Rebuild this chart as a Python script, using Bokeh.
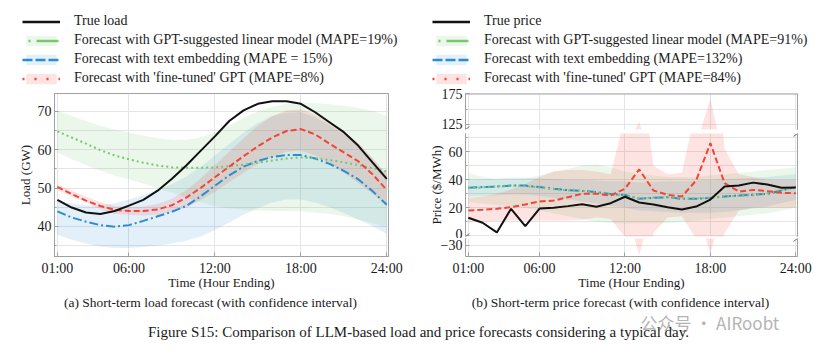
from bokeh.plotting import figure
from bokeh.layouts import row, column
from bokeh.models import Range1d, FixedTicker, Legend, LegendItem, Label, LinearAxis, Arrow, Span
from bokeh.embed import file_html
from bokeh.resources import INLINE

# ---------------- data ----------------
hours = list(range(1, 25))
tick_hours = [1, 6, 12, 18, 24]
tick_labels = ["01:00", "06:00", "12:00", "18:00", "24:00"]

# (a) load, GW
load_true = [46.9, 44.9, 43.6, 43.2, 44.0, 45.4, 46.9, 49.3, 52.4, 55.9, 59.7, 63.5,
             67.5, 70.3, 72.0, 72.7, 72.7, 72.0, 69.8, 67.2, 64.6, 61.1, 56.7, 52.4]
load_lin = [64.8, 63.2, 61.6, 59.9, 58.5, 57.5, 56.6, 55.9, 55.4, 55.3, 55.3, 55.4,
            55.7, 56.1, 56.6, 57.2, 57.7, 58.0, 57.8, 57.3, 56.7, 56.0, 55.2, 54.3]
load_lin_lo = [59.3, 57.5, 56.0, 54.5, 53.3, 52.3, 51.2, 50.0, 48.8, 47.5, 46.3, 45.3,
               44.7, 44.3, 44.1, 44.0, 44.0, 43.9, 43.6, 43.2, 42.6, 41.8, 40.8, 39.7]
load_lin_hi = [70.3, 68.8, 67.5, 66.3, 65.3, 64.5, 63.7, 63.0, 62.6, 62.6, 63.2, 64.5,
               66.3, 68.3, 70.0, 71.2, 72.0, 72.3, 72.2, 71.9, 71.5, 71.0, 70.2, 68.8]
load_emb = [43.9, 42.3, 41.2, 40.3, 39.9, 40.3, 41.4, 42.6, 43.8, 45.3, 47.8, 50.6,
            53.3, 55.6, 57.1, 58.1, 58.6, 58.6, 57.7, 56.3, 54.5, 52.3, 49.2, 45.6]
load_emb_lo = [37.8, 36.5, 35.5, 34.7, 34.3, 34.3, 34.6, 35.0, 35.5, 36.2, 37.3, 39.0,
               41.0, 43.0, 44.8, 46.2, 47.0, 47.0, 46.2, 45.0, 43.5, 41.8, 40.0, 38.0]
load_emb_hi = [46.5, 46.0, 45.5, 45.5, 46.0, 47.0, 48.2, 49.5, 51.0, 53.0, 55.5, 58.5,
               61.5, 64.5, 67.0, 68.8, 69.7, 69.8, 68.5, 66.5, 64.0, 61.0, 57.5, 53.5]
load_ft = [50.3, 48.4, 46.7, 45.3, 44.3, 44.0, 44.0, 44.4, 45.5, 47.5, 50.0, 52.8,
           55.6, 58.3, 60.9, 63.2, 64.9, 65.4, 64.0, 61.6, 59.3, 57.0, 53.6, 49.5]
load_ft_lo = [49.5, 47.8, 46.3, 44.5, 43.3, 43.0, 42.8, 43.0, 43.8, 45.0, 46.8, 49.0,
              51.5, 54.0, 56.3, 58.2, 59.5, 59.8, 58.5, 56.5, 54.0, 51.3, 48.5, 45.5]
load_ft_hi = [51.0, 49.3, 47.8, 46.3, 45.3, 45.0, 45.2, 45.8, 47.2, 49.5, 52.5, 56.0,
              59.5, 63.0, 66.3, 68.8, 70.3, 70.5, 69.3, 67.3, 64.8, 61.8, 58.0, 53.5]
load_ticks = [40, 50, 60, 70]
load_minor = [35, 45, 55, 65]

# (b) price, $/MWh
price_true = [12.9, 9.3, 2.4, 19.3, 6.9, 19.5, 20.0, 21.2, 22.6, 20.7, 23.3, 27.9,
              23.8, 22.4, 20.4, 18.8, 20.9, 25.9, 35.2, 35.9, 38.0, 36.6, 34.3, 34.5]
price_lin = [34.0, 34.6, 35.3, 36.0, 35.7, 34.5, 33.3, 32.4, 32.3, 31.0, 29.5, 28.8,
             26.8, 27.3, 27.4, 26.6, 26.6, 27.3, 28.3, 28.6, 29.0, 30.3, 32.8, 34.6]
price_lin_lo = [24, 23, 22, 21, 20, 18, 16, 14, 12, 10, 9, 9,
                9, 9, 9, 10, 11, 12, 13, 14, 15, 16, 18, 20]
price_lin_hi = [45, 42, 40, 40, 41, 43, 46, 48, 50, 51, 49, 46,
                44, 43, 42, 42, 42, 43, 44, 45, 46, 47, 48, 49]
price_emb = [34.3, 34.8, 35.2, 35.9, 35.9, 34.8, 33.6, 32.6, 32.1, 31.2, 29.8, 29.1,
             26.4, 27.1, 27.6, 26.4, 26.4, 27.1, 28.1, 28.8, 29.3, 30.0, 32.4, 34.8]
price_emb_lo = [28.0, 28.5, 29.0, 29.5, 29.5, 28.5, 27.0, 26.0, 24.5, 23.0, 21.5, 20.0,
                18.0, 17.5, 17.0, 16.5, 16.5, 16.5, 17.0, 18.0, 19.5, 21.0, 23.5, 25.5]
price_emb_hi = [40.0, 40.5, 41.0, 41.5, 41.5, 41.0, 40.5, 40.0, 40.0, 39.5, 39.0, 39.0,
                38.0, 38.5, 39.0, 39.0, 39.5, 40.0, 40.5, 41.0, 41.5, 42.0, 43.0, 44.0]
price_ft = [18.1, 18.6, 19.3, 20.4, 22.4, 24.5, 25.2, 27.6, 30.0, 30.0, 28.8, 33.6,
            47.4, 32.4, 29.3, 28.1, 39.5, 66.2, 37.6, 31.6, 32.8, 31.9, 30.7, 30.4]
price_ft_lo = [9.7, 10.0, 10.5, 11.0, 11.0, 11.0, 11.0, 11.0, 11.5, 13.0, 12.0, -1.0,
               -37.0, 2.0, 13.0, 14.0, -2.0, -36.0, 2.0, 18.0, 20.0, 20.0, 20.0, 20.0]
price_ft_hi = [27, 28, 30, 33, 37, 42, 46, 47, 47, 46, 44, 85,
               129.4, 50, 44, 45, 91.5, 167, 62, 44, 42, 40, 40, 40]

price_top_ticks, price_top_minor = [125, 175], [150]
price_mid_ticks, price_mid_minor = [0, 20, 40, 60], [10, 30, 50, 70]
price_bot_ticks, price_bot_minor = [-30], []

legend_a = ["True load",
            "Forecast with GPT-suggested linear model (MAPE=19%)",
            "Forecast with text embedding (MAPE = 15%)",
            "Forecast with 'fine-tuned' GPT (MAPE=8%)"]
legend_b = ["True price",
            "Forecast with GPT-suggested linear model (MAPE=91%)",
            "Forecast with text embedding (MAPE=132%)",
            "Forecast with 'fine-tuned' GPT (MAPE=84%)"]

# ---------------- style ----------------
FONT = "Liberation Serif"
GRAY = "#a0a0a0"
GRID = "#e4e4e4"
TXT = "#1a1a1a"
BLACK, GREEN, BLUE, RED = "#111111", "#78c76f", "#2b8ccf", "#f2453a"
X_RANGE = (0.8, 24.12)
FS = "14px"
NAN = float("nan")


def base_fig(width, height, yr, **kw):
    p = figure(width=width, height=height, x_range=Range1d(*X_RANGE), y_range=Range1d(*yr),
               output_backend="svg", toolbar_location=None, **kw)
    p.background_fill_color = "white"
    p.border_fill_color = "white"
    p.xgrid.ticker = FixedTicker(ticks=tick_hours)
    p.xgrid.grid_line_color = GRID
    p.ygrid.grid_line_color = GRID
    p.ygrid.minor_grid_line_color = GRID
    for ax in p.yaxis:
        ax.axis_line_color = GRAY
        ax.major_tick_line_color = GRAY
        ax.minor_tick_line_color = GRAY
        ax.major_tick_in = 4
        ax.major_tick_out = 0
        ax.minor_tick_in = 2
        ax.minor_tick_out = 0
        ax.major_label_standoff = 3
        ax.major_label_text_font = FONT
        ax.major_label_text_font_size = FS
        ax.major_label_text_color = TXT
        ax.axis_label_text_font = FONT
        ax.axis_label_text_font_size = "13px"
        ax.axis_label_text_font_style = "normal"
        ax.axis_label_text_color = TXT
        ax.axis_label_standoff = 2
    return p


def style_xaxis(p):
    for ax in p.xaxis:
        ax.ticker = FixedTicker(ticks=tick_hours)
        ax.major_label_overrides = dict(zip(tick_hours, tick_labels))
        ax.axis_line_color = GRAY
        ax.major_tick_line_color = GRAY
        ax.minor_tick_line_color = None
        ax.major_tick_in = 4
        ax.major_tick_out = 0
        ax.major_label_standoff = 4
        ax.major_label_text_font = FONT
        ax.major_label_text_font_size = FS
        ax.major_label_text_color = TXT
        ax.axis_label = "Time (Hour Ending)"
        ax.axis_label_text_font = FONT
        ax.axis_label_text_font_size = "13px"
        ax.axis_label_text_font_style = "normal"
        ax.axis_label_text_color = TXT
        ax.axis_label_standoff = -4


def draw_series(p, x, true, lin, lin_lo, lin_hi, emb, emb_lo, emb_hi, ft, ft_lo, ft_hi):
    p.varea(x=x, y1=lin_lo, y2=lin_hi, fill_color=GREEN, fill_alpha=0.15)
    p.varea(x=x, y1=emb_lo, y2=emb_hi, fill_color=BLUE, fill_alpha=0.13)
    p.varea(x=x, y1=ft_lo, y2=ft_hi, fill_color=RED, fill_alpha=0.15)
    p.line(x, emb, line_color=BLUE, line_width=2, line_dash="9 3 2 3")
    p.line(x, lin, line_color=GREEN, line_width=2, line_dash="2 3")
    p.line(x, ft, line_color=RED, line_width=2, line_dash="6 3")
    p.line(x, true, line_color=BLACK, line_width=2)


def legend_fig(width, labels, x0):
    lf = figure(width=width, height=87, x_range=Range1d(0, 1), y_range=Range1d(0, 1),
                x_axis_location=None, y_axis_location=None, toolbar_location=None,
                output_backend="svg", min_border=0)
    lf.outline_line_color = None
    lf.grid.visible = False
    # legend proxies (NaN data, nothing drawn in the frame) with the reference's legend styles
    l_true = lf.line(x=[NAN], y=[NAN], line_color=BLACK, line_width=2.5)
    b_lin = lf.varea(x=[NAN], y1=[NAN], y2=[NAN], fill_color=GREEN, fill_alpha=0.15)
    l_lin = lf.line(x=[NAN], y=[NAN], line_color=GREEN, line_width=2.5, line_dash="0 6 2 6 22 0")
    b_emb = lf.varea(x=[NAN], y1=[NAN], y2=[NAN], fill_color=BLUE, fill_alpha=0.13)
    l_emb = lf.line(x=[NAN], y=[NAN], line_color=BLUE, line_width=2.5, line_dash="10 3")
    b_ft = lf.varea(x=[NAN], y1=[NAN], y2=[NAN], fill_color=RED, fill_alpha=0.15)
    l_ft = lf.line(x=[NAN], y=[NAN], line_color=RED, line_width=2.5, line_dash="2 10")
    items = [LegendItem(label=labels[0], renderers=[l_true]),
             LegendItem(label=labels[1], renderers=[b_lin, l_lin]),
             LegendItem(label=labels[2], renderers=[b_emb, l_emb]),
             LegendItem(label=labels[3], renderers=[b_ft, l_ft])]
    leg = Legend(items=items, location=(x0, 1), orientation="vertical",
                 glyph_width=38, glyph_height=13, label_standoff=14, spacing=3,
                 padding=0, margin=0, border_line_color=None, background_fill_alpha=0,
                 label_text_font=FONT, label_text_font_size=FS, label_text_color=TXT,
                 label_height=13)
    lf.add_layout(leg, "center")
    return lf


# ---------------- (a) load ----------------
pl = base_fig(415, 207, (32.1, 74.7), min_border_left=54, min_border_right=27,
              min_border_top=6, min_border_bottom=38)
pl.outline_line_color = GRAY
pl.yaxis.ticker = FixedTicker(ticks=load_ticks, minor_ticks=load_minor)
pl.ygrid.ticker = FixedTicker(ticks=load_ticks, minor_ticks=load_minor)
pl.yaxis.axis_label = "Load (GW)"
style_xaxis(pl)
draw_series(pl, hours, load_true, load_lin, load_lin_lo, load_lin_hi,
            load_emb, load_emb_lo, load_emb_hi, load_ft, load_ft_lo, load_ft_hi)


# ---------------- (b) price: broken y axis as three stacked panels ----------------
def price_panel(height, yr, ticks, minor, mb_top, mb_bot, xaxis, ylabel=None):
    p = base_fig(414, height, yr, min_border_left=50, min_border_right=32,
                 min_border_top=mb_top, min_border_bottom=mb_bot,
                 x_axis_location="below" if xaxis else None)
    p.outline_line_color = None
    p.yaxis.ticker = FixedTicker(ticks=ticks, minor_ticks=minor)
    p.ygrid.ticker = FixedTicker(ticks=ticks, minor_ticks=minor)
    if ylabel:
        p.yaxis.axis_label = ylabel
    if xaxis:
        style_xaxis(p)
    right = LinearAxis(ticker=FixedTicker(ticks=[]), axis_line_color=GRAY,
                       major_tick_line_color=None, minor_tick_line_color=None)
    p.add_layout(right, "right")
    draw_series(p, hours, price_true, price_lin, price_lin_lo, price_lin_hi,
                price_emb, price_emb_lo, price_emb_hi, price_ft, price_ft_lo, price_ft_hi)
    return p


TOP_RANGE = (116.8, 175.6)
MID_RANGE = (-0.5, 73.1)
BOT_RANGE = (-37.9, -25.0)
ptop = price_panel(45, TOP_RANGE, price_top_ticks, price_top_minor, 6, 3, False)
ptop.add_layout(Span(location=TOP_RANGE[1], dimension="width", line_color=GRAY, line_width=2))
pmid = price_panel(106, MID_RANGE, price_mid_ticks, price_mid_minor, 1, 2, False,
                   ylabel="Price ($/MWh)")
pbot = price_panel(56, BOT_RANGE, price_bot_ticks, price_bot_minor, 0, 38, True)


def break_mark(p, yval, dy):
    dx = 0.28
    for xv in X_RANGE:
        p.add_layout(Arrow(end=None, x_start=xv - dx, y_start=yval - dy,
                           x_end=xv + dx, y_end=yval + dy,
                           line_color="#777777", line_width=1))


break_mark(ptop, TOP_RANGE[0], 4.9)
break_mark(pmid, MID_RANGE[1], 2.1)
break_mark(pmid, MID_RANGE[0], 2.1)
break_mark(pbot, BOT_RANGE[1], 2.1)

leg_a = legend_fig(415, legend_a, 22)
leg_b = legend_fig(414, legend_b, 17)

# ---------------- captions ----------------
cf = figure(width=829, height=64, x_range=Range1d(0, 829), y_range=Range1d(0, 64),
            x_axis_location=None, y_axis_location=None, toolbar_location=None,
            output_backend="svg", min_border=0)
cf.outline_line_color = None
cf.grid.visible = False
cf.add_layout(Label(x=210, y=56, text="(a) Short-term load forecast (with confidence interval)",
                    text_font=FONT, text_font_size="13.5px", text_color=TXT,
                    text_align="center", text_baseline="middle"))
cf.add_layout(Label(x=620, y=56, text="(b) Short-term price forecast (with confidence interval)",
                    text_font=FONT, text_font_size="13.5px", text_color=TXT,
                    text_align="center", text_baseline="middle"))
cf.add_layout(Label(x=640, y=36, text="公众号 · AIRoobt", text_font="Noto Sans CJK SC",
                    text_font_size="17px", text_color="#b4b4b4",
                    text_align="left", text_baseline="middle"))
cf.add_layout(Label(x=418, y=27,
                    text="Figure S15: Comparison of LLM-based load and price forecasts considering a typical day.",
                    text_font=FONT, text_font_size="15px", text_color=TXT,
                    text_align="center", text_baseline="middle"))

layout = column(row(leg_a, leg_b), row(pl, column(ptop, pmid, pbot)), cf)

open("out.html", "w").write(file_html(layout, INLINE))
